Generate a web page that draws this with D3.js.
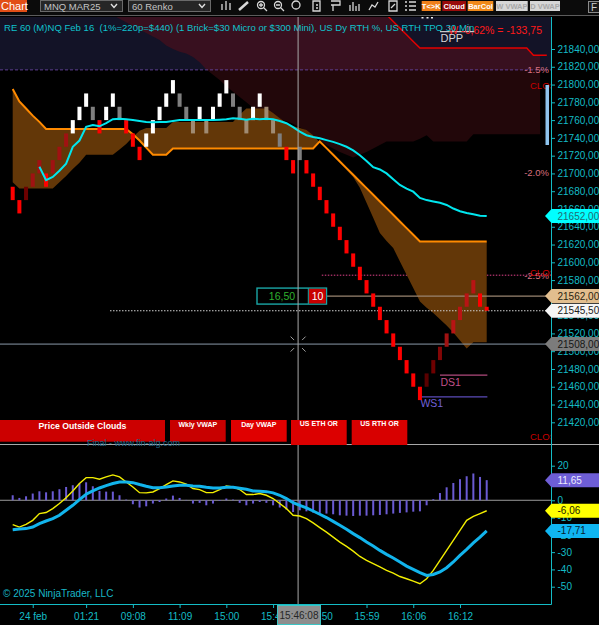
<!DOCTYPE html>
<html><head><meta charset="utf-8">
<script src="https://cdn.jsdelivr.net/npm/d3@7/dist/d3.min.js"></script>
<style>
html,body{margin:0;padding:0;background:#000;overflow:hidden;}
svg{display:block;font-family:"Liberation Sans",Arial,Helvetica,sans-serif;}
text{white-space:pre;}
</style></head><body>
<svg id="chart" width="599" height="625"></svg>
<script>
// ================= DATA =================
const brickTop = [21685,21670,21685,21700,21715,21700,21715,21730,21745,21760,21775,21790,
  21775,21760,21775,21790,21775,21760,21745,21730,21745,21760,21775,21790,
  21805,21790,21775,21760,21775,21760,21775,21790,21805,21790,21775,21760,
  21775,21790,21775,21760,21745,21730,21715,21730,21715,21700,21685,21670,
  21655,21640,21625,21610,21595,21580,21565,21550,21535,21520,21505,21490,
  21475,21460,21475,21490,21505,21520,21535,21550,21565,21580,21565,21550];
const brickBottom = [21670,21655,21670,21685,21700,21685,21700,21715,21730,21745,21760,21775,
  21760,21745,21760,21775,21760,21745,21730,21715,21730,21745,21760,21775,
  21790,21775,21760,21745,21760,21745,21760,21775,21790,21775,21760,21745,
  21760,21775,21760,21745,21730,21715,21700,21715,21700,21685,21670,21655,
  21640,21625,21610,21595,21580,21565,21550,21535,21520,21505,21490,21475,
  21460,21445,21460,21475,21490,21505,21520,21535,21550,21565,21550,21545.5];
const brickState = ["bear","bear","rec2","rec4","rec4","bear","rec4","rec4","rec4","bull","bull","bull",
  "pause","bear","bull","bull","pause","bear","bear","bear","bull","bull","bull","bull",
  "bull","pause","pause","inside","bull","inside","bull","bull","bull","pause","pause","inside",
  "bull","bull","inside","inside","pause","bear","bear","pause","bear","bear","bear","bear",
  "bear","bear","bear","bear","bear","bear","bear","bear","bear","bear","bear","bear",
  "bear","bear","rec1","rec2","rec3","rec4","rec5","rec5","rec5","rec5","bear","bear"];
const maValues = [null,null,null,null,21707.5,21692.5,21696,21703,21711,21730,21737,21752.5,
  21754.5,21753,21756.5,21761,21761.5,21761,21760,21759,21758,21757.5,21758,21758,
  21759,21760,21760,21760,21760,21760,21760,21760.5,21761,21762,21761.5,21760.5,
  21761.5,21761,21761.5,21761,21759,21756.5,21752,21747,21743,21741,21739.5,21737.5,
  21735.5,21733,21730,21726,21720.5,21714,21707,21704.5,21700,21693.5,21687,21683,
  21679.5,21672.5,21670,21668.5,21667,21664.5,21660.5,21657.5,21655.5,21654,21652.5,21652];
const cloudA = [21795,21781,21773,21765,21758,21750,21750,21750,21750,21750,21750,21750,
  21750,21750,21750,21750,21750,21750,21744,21737,21729,21721,21721,21721,
  21728,21728,21728,21728,21728,21728,21728,21728,21728,21728,21728,21728,
  21728,21728,21728,21728,21728,21728,21728,21728,21728,21728,21736,21728.5,
  21721,21713.5,21706,21698.5,21691,21683.5,21676,21668.5,21661,21653.5,21646,21638.5,
  21631,21623.5,21623.5,21623.5,21623.5,21623.5,21623.5,21623.5,21623.5,21623.5,21623.5,21623.5];
const cloudB = [21690,21683,21683,21683,21683,21683,21683,21690,21697,21705,21712,21721,
  21721,21721,21721,21721,21727,21733,21741,21748,21751,21751,21751,21751,
  21758,21758,21758,21758,21758,21758,21758,21758,21758,21758,21766,21773,
  21773,21773,21773,21768,21762,21757,21753,21751,21749,21743,21735,21728,
  21720,21712,21704,21696,21684,21667,21650,21633,21624,21616,21601,21586,
  21571,21556,21549,21543,21536,21529,21521,21512,21503,21510,21510,21510];
const upperCloudTop = [null,null,null,null,null,null,null,null,null,null,null,null,null,null,null,
  21900,21900,21900,21900,21900,21900,21900,21900,21900,21900,21900,21900,21900,21900,21900,
  21900,21900,21900,21900,21900,21900,21900,21900,21900,21900,21900,21900,21900,21900,21900,
  21900,21900,21900,21900,21900,21900,21900,21900,21900,
  21893.5,21886,21878.5,21871,21863.5,21856,21848.5,21841,
  21841,21841,21841,21841,21841,21841,21841,21841,21841,21841,21841,21841,21841,21841,21841,21841,
  21833,21833,21833];
const upperCloudBottom = [null,null,null,null,null,null,null,null,null,null,null,null,null,null,null,
  21878,21874,21870,21866,21862,21858,21854,21850,21844,21840,21837,21835,21831,21825,21817,
  21811,21805,21798,21792,21786,21780,21774,21770,21768,21765,21761,21759,21756,21752,21748,
  21742,21738,21732,21728,21724,21721,21718,21721,21724,21728,21732,21736,21736,21736,21736,
  21736,21739,21743,21736,21736,21736,21736,21736,21736,21744,21744,21744,21744,21744,21744,
  21744,21744,21744,21744,21744,null];
const macdValues = [-14.1,-15.5,-13.9,-11.6,-7.7,-7.1,-4.8,-1.9,1.5,5.4,
  9.7,13.1,13.1,12.2,13.5,14.7,13.5,10.6,7.7,4.4,
  4.3,4.8,6.8,9.1,11.2,10.6,9.3,6.8,6.2,4.4,
  4.4,6.2,8.3,7.7,6.2,3.3,3.3,3.9,2.9,1.0,
  -1.9,-4.8,-8.7,-9.1,-10.6,-13.1,-15.8,-18.4,-21.3,-24.2,
  -26.7,-29.4,-32.5,-34.8,-36.7,-38.6,-40.6,-42.1,-44.1,-45.4,
  -46.8,-48.3,-45.4,-40.6,-34.8,-29.0,-23.2,-17.4,-11.6,-9.3,-7.7,-6.06];
const signalValues = [-17.0,-16.6,-16.4,-15.5,-13.5,-12.0,-10.6,-8.7,-5.8,-2.9,
  0.4,3.5,5.4,7.1,8.5,9.7,10.6,10.6,10.2,9.1,
  8.1,7.3,7.3,7.7,8.3,8.7,8.7,8.3,8.1,7.5,
  7.1,7.1,7.5,7.5,7.0,6.4,5.4,5.2,5.0,4.3,
  2.9,1.0,-1.4,-2.9,-4.4,-6.2,-8.1,-10.0,-12.2,-14.5,
  -16.8,-19.3,-21.6,-24.2,-26.5,-29.0,-31.3,-33.4,-35.7,-38.1,
  -40.0,-41.9,-43.5,-42.9,-41.5,-39.0,-35.7,-31.9,-28.4,-24.7,-21.3,-17.71];
const histValues = [2.9,1.35,2.3,3.9,5.2,4.6,5.2,6.4,7.7,8.7,
  9.7,10.4,8.1,5.4,5.0,5.0,2.9,0.4,-2.3,-4.2,
  -3.5,-1.9,-1.0,1.0,2.7,1.35,0.2,-1.9,-1.5,-2.9,
  -1.9,-0.4,1.0,0.4,-1.5,-2.9,-1.9,-1.0,-1.5,-2.9,
  -4.2,-5.4,-6.8,-5.8,-6.4,-7.1,-7.3,-7.7,-8.1,-8.7,
  -8.9,-9.1,-8.9,-8.9,-8.7,-8.5,-8.1,-7.7,-7.3,-7.0,
  -6.6,-6.4,-2.9,0.6,4.2,7.5,10.0,12.2,13.9,15.5,13.5,11.65];
const priceTicks = [21840,21820,21800,21780,21760,21740,21720,21700,21680,21660,21640,
  21620,21600,21580,21560,21540,21520,21500,21480,21460,21440,21420];
const macdTicks = [20,10,0,-10,-20,-30,-40,-50];
const timeTickBars = [3,11,18,25,32,39,46,53,60,67];
const timeTickLabels = ["24 feb","01:21","09:08","11:09","15:00","15:45","15:50","15:59","16:06","16:12"];
const pctLevelLabels = ["-1.5%","-2.0%","-2.5%"];
const pctLevelPrices = [21816.5,21701,21585.5];
const pivotLabels = ["DPP","DS1","WS1"];
const pivotPrices = [21859.5,21473,21448.5];
const pivotStartBar = [64,64,61];
const pivotEndBar = [69.2,71.1,71.1];
const priceMarkerValues = [21652,21562,21545.5,21508];
const macdMarkerValues = [11.65,-6.06,-17.71];
const signalNames = ["Price Outside Clouds","Wkly VWAP","Day VWAP","US ETH OR","US RTH OR"];
const crosshairBar = 42.75, crosshairPrice = 21508, crosshairTime = "15:46:08";
const orderPrice = 21562, orderPnl = "16,50", orderQty = "10";
const lastPrice = 21545.5;
const titleText = "RE 60 (M)NQ Feb 16  (1%=220p=$440) (1 Brick=$30 Micro or $300 Mini), US Dy RTH %, US RTH TPO 30 Min";
const weeklyText = "W -0,62% = -133,75";

// ================= LAYOUT / STYLE =================
const W = 599, H = 625, PR = 551, MT = 17, MB = 445, BOT = 604;
const CY = "#14bcc6";
const stateColor = {bear:"#ff0000", bull:"#ffffff", pause:"#7f7f7f", inside:"#a08b73",
  rec1:"#5a0000", rec2:"#6e0000", rec3:"#820606", rec4:"#a01212", rec5:"#b81414"};
const svg = d3.select("#chart");
svg.append("rect").attr("width",W).attr("height",H).attr("fill","#000");

const x = d3.scaleLinear().domain([0,71]).range([12.7,486.7]);
const y = d3.scaleLinear().domain([21420,21840]).range([422.3,49]);
const ym = d3.scaleLinear().domain([-50,20]).range([586.7,465.7]);
const fmt = v => v.toFixed(2).replace(".", ",");
const bars = d3.range(brickTop.length);

const defs = svg.append("defs");
function clip(id,x0,y0,w,h){defs.append("clipPath").attr("id",id).append("rect")
  .attr("x",x0).attr("y",y0).attr("width",w).attr("height",h);}
const bandBottom = y(pctLevelPrices[0]);
clip("cMain",0,MT,PR,MB-MT);
clip("cBand",0,MT,PR,bandBottom-MT);
clip("cBelow",0,bandBottom,PR,MB-bandBottom);
clip("cMacd",0,MB+1,PR,BOT-MB-1);

// ---------- toolbar ----------
const tb = svg.append("g");
tb.append("rect").attr("x",0).attr("y",0).attr("width",W).attr("height",15).attr("fill","#0b0b0b");
tb.append("rect").attr("x",0).attr("y",0).attr("width",27).attr("height",12).attr("fill","#e24e16");
tb.append("text").attr("x",1).attr("y",10).attr("fill","#fff").attr("font-size",11).text("Chart");
[[40,122,"MNQ MAR25"],[128,210,"60 Renko"]].forEach(([a,b,t])=>{
  tb.append("rect").attr("x",a+0.5).attr("y",0.5).attr("width",b-a).attr("height",11)
    .attr("fill","#262626").attr("stroke","#6a6a6a");
  tb.append("text").attr("x",a+4).attr("y",9.5).attr("fill","#c4c4c4").attr("font-size",9.5).text(t);
  tb.append("path").attr("d",`M${b-11},4 L${b-8},7.5 L${b-5},4`).attr("fill","none")
    .attr("stroke","#e0e0e0").attr("stroke-width",1.4);
});
const ic = tb.append("g").attr("stroke","#d8d8d8").attr("fill","none").attr("stroke-width",1.3);
ic.append("path").attr("d","M222,10V4 M226,10V1 M230,10V3");
ic.append("path").attr("d","M239,10 L248,2").attr("stroke-width",2.5);
ic.append("circle").attr("cx",261).attr("cy",5).attr("r",3.5);
ic.append("path").attr("d","M263.5,7.5 L267,11 M259,5H263 M261,3V7");
ic.append("circle").attr("cx",278).attr("cy",5).attr("r",3.5);
ic.append("path").attr("d","M280.5,7.5 L284,11 M276,5H280");
ic.append("circle").attr("cx",296).attr("cy",5).attr("r",4);
ic.append("path").attr("d","M313,1H320V11H313Z M316,5H318 M316,8H318");
ic.append("path").attr("d","M331,1H340V5H331 M333,5V11");
ic.append("path").attr("d","M350,11V5 M353,11V2 M356,11V6 M359,11V4");
ic.append("path").attr("d","M369,10 L372,5 L375,7 L378,2");
ic.append("path").attr("d","M389,1H397V11H389Z M391,8L395,4");
ic.append("path").attr("d","M405,2H407 M409,2H416 M405,6H407 M409,6H416 M405,10H407 M409,10H416");
[[421.7,440.7,"#f07f1a","#fff","T<>K"],[442.3,466,"#9a0b0b","#fff","Cloud"],
 [467.7,493.3,"#f08a1a","#fff","BarCol"],[496,527.7,"#d6d6d6","#a8a8a8","W VWAP"],
 [530,560,"#d6d6d6","#a8a8a8","D VWAP"]].forEach(([a,b,f,tc,t])=>{
  tb.append("rect").attr("x",a).attr("y",1).attr("width",b-a).attr("height",10).attr("fill",f);
  tb.append("text").attr("x",(a+b)/2).attr("y",9).attr("text-anchor","middle").attr("fill",tc)
    .attr("font-size",7.5).attr("font-weight","bold").text(t);
});
tb.append("rect").attr("x",588.5).attr("y",1.5).attr("width",12).attr("height",11).attr("fill","#1a1a1a").attr("stroke","#8a8a8a");
tb.append("text").attr("x",591).attr("y",10.5).attr("fill","#cfcfcf").attr("font-size",10).text("F");
svg.append("line").attr("x1",0).attr("x2",W).attr("y1",15.5).attr("y2",15.5).attr("stroke","#5c5c5c");

// ---------- main panel ----------
const main = svg.append("g").attr("clip-path","url(#cMain)");
main.append("rect").attr("x",0).attr("y",MT).attr("width",PR).attr("height",bandBottom-MT).attr("fill","#131327");
const uIdx = d3.range(upperCloudTop.length);
const ucArea = d3.area().defined(i=>upperCloudTop[i]!=null && upperCloudBottom[i]!=null)
  .x(i=>x(i)).y0(i=>y(upperCloudBottom[i])).y1(i=>y(upperCloudTop[i]));
main.append("path").attr("d",ucArea(uIdx)).attr("fill","#38101f").attr("clip-path","url(#cBand)");
main.append("path").attr("d",ucArea(uIdx)).attr("fill","#22070a").attr("clip-path","url(#cBelow)");
main.append("path").attr("d",d3.line().defined(i=>upperCloudTop[i]!=null).x(i=>x(i)).y(i=>y(upperCloudTop[i]))(uIdx))
  .attr("fill","none").attr("stroke","#e30000").attr("stroke-width",1.5);
main.append("line").attr("x1",0).attr("x2",PR).attr("y1",bandBottom).attr("y2",bandBottom)
  .attr("stroke","#5d3f92").attr("stroke-dasharray","3,2");
main.append("line").attr("x1",x(46.3)).attr("x2",PR).attr("y1",y(pctLevelPrices[2])).attr("y2",y(pctLevelPrices[2]))
  .attr("stroke","#e0428a").attr("stroke-dasharray","1.5,1.5");

// brown cloud
main.append("path").attr("d",d3.area().x(i=>x(i)).y0(i=>y(cloudB[i])).y1(i=>y(cloudA[i]))(bars)).attr("fill","#633708");
main.append("path").attr("d",d3.line().x(i=>x(i)).y(i=>y(cloudA[i]))(bars))
  .attr("fill","none").attr("stroke","#ff8a00").attr("stroke-width",2);

// pivots
const pivotColor = ["#c8c8c8","#b04a7c","#5b4bb8"], pivotText = ["#d6d6d6","#c0508a","#7060d8"];
pivotLabels.forEach((lab,k)=>{
  const py = y(pivotPrices[k]);
  main.append("line").attr("x1",x(pivotStartBar[k])).attr("x2",x(pivotEndBar[k])).attr("y1",py).attr("y2",py)
    .attr("stroke",pivotColor[k]).attr("stroke-width",1.2);
  main.append("text").attr("x",x(pivotStartBar[k])+0.5).attr("y",py+10.5).attr("fill",pivotText[k])
    .attr("font-size",k===0?11:10.5).text(lab);
});
main.append("text").attr("x",542).attr("y",33.5).attr("text-anchor","end").attr("fill","#ff1a1a")
  .attr("font-size",10.5).text(weeklyText);
main.append("text").attr("x",4).attr("y",30.5).attr("fill","#10c2cc").attr("font-size",9.55).text(titleText);
main.append("rect").attr("x",421.5).attr("y",16.5).attr("width",2).attr("height",2).attr("fill","#eee");
main.append("rect").attr("x",426.5).attr("y",16.5).attr("width",2).attr("height",2).attr("fill","#eee");
main.append("rect").attr("x",431).attr("y",16.5).attr("width",2).attr("height",2).attr("fill","#eee");

// level lines
const oy = y(orderPrice), ly = y(lastPrice), cy = y(crosshairPrice), cx = x(crosshairBar);
main.append("line").attr("x1",326.7).attr("x2",PR).attr("y1",oy).attr("y2",oy).attr("stroke","#9a8570").attr("stroke-width",1.3);
main.append("line").attr("x1",110).attr("x2",PR).attr("y1",ly).attr("y2",ly).attr("stroke","#d0d0d0").attr("stroke-dasharray","1.5,1.5");
main.append("line").attr("x1",0).attr("x2",PR).attr("y1",cy).attr("y2",cy).attr("stroke","#8a9aaa");

// bricks
main.selectAll("rect.brick").data(bars).join("rect").attr("class","brick")
  .attr("x",i=>x(i)-2).attr("width",4)
  .attr("y",i=>y(brickTop[i])).attr("height",i=>y(brickBottom[i])-y(brickTop[i]))
  .attr("fill",i=>stateColor[brickState[i]]);

// MA
main.append("path").attr("d",d3.line().defined(i=>maValues[i]!=null).x(i=>x(i)).y(i=>y(maValues[i]))(bars))
  .attr("fill","none").attr("stroke","#00e6ee").attr("stroke-width",2);

// order box
main.append("rect").attr("x",257).attr("y",oy-8).attr("width",69.5).attr("height",16).attr("fill","#000")
  .attr("stroke","#1aa6a6").attr("stroke-width",1.4);
main.append("rect").attr("x",308.5).attr("y",oy-7.3).attr("width",17.3).attr("height",14.6).attr("fill","#c80000");
main.append("line").attr("x1",308.3).attr("x2",308.3).attr("y1",oy-8).attr("y2",oy+8).attr("stroke","#1aa6a6");
main.append("text").attr("x",282).attr("y",oy+3.8).attr("text-anchor","middle").attr("fill","#2fb02f").attr("font-size",10.5).text(orderPnl);
main.append("text").attr("x",317.5).attr("y",oy+3.8).attr("text-anchor","middle").attr("fill","#fff").attr("font-size",10.5).text(orderQty);

// pct labels
const pctColor = "#d8707f";
[0,1,2].forEach(k=>{
  main.append("text").attr("x",549).attr("y",y(pctLevelPrices[k])+3.5).attr("text-anchor","end")
    .attr("fill",pctColor).attr("font-size",9.5).text(pctLevelLabels[k]);
});
[85,272.5,436].forEach(yy=>{
  main.append("text").attr("x",530).attr("y",yy+3.5).attr("fill","#c80000").attr("font-size",9.5).text("CLOS");
});
main.append("rect").attr("x",545.5).attr("y",85).attr("width",3.5).attr("height",60).attr("fill","#8ec4ee");

// crosshair vertical
svg.append("line").attr("x1",cx).attr("x2",cx).attr("y1",MT).attr("y2",BOT).attr("stroke","#a8a8a8");
const xm = svg.append("g").attr("stroke","#a0a0a0").attr("stroke-width",1);
[[-1,-1],[1,-1],[-1,1],[1,1]].forEach(([sx,sy])=>{
  xm.append("line").attr("x1",cx+sx*4).attr("y1",cy+sy*4).attr("x2",cx+sx*7.5).attr("y2",cy+sy*7.5);
});

// separator
svg.append("line").attr("x1",0).attr("x2",W).attr("y1",444.5).attr("y2",444.5).attr("stroke","#a8a8a8");

// signal strip
const stripLayout = [[0,165,441.7,"#cc0000",8.7,429.3],[170,225.7,441.7,"#c80000",7,427],[231,286.7,441.7,"#e00000",7,427],
  [291,346.7,445,"#dc0000",7,426],[351.7,407.3,445,"#d80000",7,426]];
signalNames.forEach((nm,k)=>{
  const [a,b,bt,f,fs,ty] = stripLayout[k];
  svg.append("rect").attr("x",a).attr("y",420).attr("width",b-a).attr("height",bt-420).attr("fill",f);
  svg.append("text").attr("x",(a+b)/2).attr("y",ty).attr("text-anchor","middle").attr("fill","#fff")
    .attr("font-size",fs).attr("font-weight","bold").text(nm);
});
svg.append("text").attr("x",87).attr("y",445.5).attr("fill","#21698c").attr("font-size",9).text("Final - www.fin-alg.com");

// ---------- MACD panel ----------
const mp = svg.append("g").attr("clip-path","url(#cMacd)");
mp.append("line").attr("x1",0).attr("x2",PR).attr("y1",ym(0)).attr("y2",ym(0)).attr("stroke","#9a9a9a");
mp.selectAll("rect.h").data(bars).join("rect").attr("class","h")
  .attr("x",i=>x(i)-1).attr("width",2)
  .attr("y",i=>Math.min(ym(histValues[i]),ym(0))).attr("height",i=>Math.abs(ym(histValues[i])-ym(0)))
  .attr("fill","#6a5ad2");
mp.append("path").attr("d",d3.line().x(i=>x(i)).y(i=>ym(macdValues[i]))(bars))
  .attr("fill","none").attr("stroke","#f2ee00").attr("stroke-width",1.4);
mp.append("path").attr("d",d3.line().x(i=>x(i)).y(i=>ym(signalValues[i]))(bars))
  .attr("fill","none").attr("stroke","#12b4ec").attr("stroke-width",3);
svg.append("text").attr("x",3).attr("y",596.5).attr("fill","#18b8c8").attr("font-size",10).text("\u00a9 2025 NinjaTrader, LLC");

// ---------- axes ----------
function styleAxis(g){
  g.select(".domain").remove();
  g.selectAll(".tick line").attr("stroke",CY);
  g.selectAll(".tick text").attr("fill",CY).attr("font-size",10).attr("font-family","Liberation Sans, Arial, sans-serif");
}
svg.append("g").attr("transform",`translate(${PR},0)`)
  .call(d3.axisRight(y).tickValues(priceTicks).tickSize(4).tickPadding(2.5).tickFormat(fmt)).call(styleAxis);
svg.append("g").attr("transform",`translate(${PR},0)`)
  .call(d3.axisRight(ym).tickValues(macdTicks).tickSize(4).tickPadding(2.5).tickFormat(d=>String(d))).call(styleAxis);
svg.append("g").attr("transform",`translate(0,${BOT})`)
  .call(d3.axisBottom(x).tickValues(timeTickBars).tickSize(4).tickPadding(5).tickFormat((d,i)=>timeTickLabels[i])).call(styleAxis);
svg.append("line").attr("x1",PR+0.5).attr("x2",PR+0.5).attr("y1",MT).attr("y2",BOT+0.5).attr("stroke",CY);
svg.append("line").attr("x1",0).attr("x2",PR+0.5).attr("y1",BOT+0.5).attr("y2",BOT+0.5).attr("stroke",CY);

// markers
function marker(yc, fill, tc, label){
  svg.append("path").attr("d",`M545,${yc} L551.5,${yc-7} L599,${yc-7} L599,${yc+7} L551.5,${yc+7} Z`).attr("fill",fill);
  svg.append("text").attr("x",557.5).attr("y",yc+3.6).attr("fill",tc).attr("font-size",10).text(label);
}
const pmStyle = [["#00ffff","#206c72"],["#e2be8e","#2a1e10"],["#f6f6f6","#202020"],["#7c7c7c","#161616"]];
priceMarkerValues.forEach((v,k)=>marker(y(v),pmStyle[k][0],pmStyle[k][1],fmt(v)));
const mmStyle = [["#6e5ed6","#ececff"],["#ffff00","#202000"],["#10b6f2","#08202c"]];
macdMarkerValues.forEach((v,k)=>marker(ym(v),mmStyle[k][0],mmStyle[k][1],fmt(v)));

// crosshair time box
svg.append("rect").attr("x",277.5).attr("y",605.5).attr("width",43).attr("height",19).attr("fill","#8e8e8e").attr("stroke","#3cc4c4");
svg.append("text").attr("x",299).attr("y",618.5).attr("text-anchor","middle").attr("fill","#262626").attr("font-size",10).text(crosshairTime);
</script></body></html>
